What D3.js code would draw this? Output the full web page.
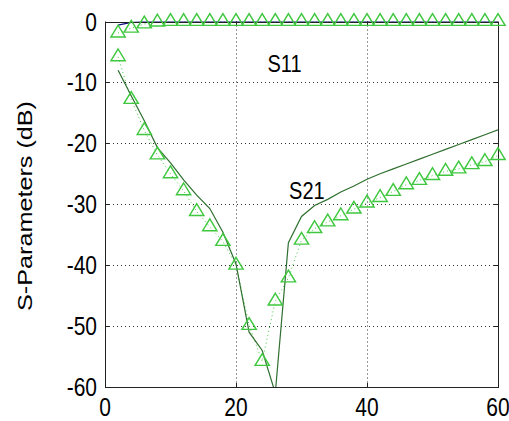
<!DOCTYPE html>
<html>
<head>
<meta charset="utf-8">
<script src="https://cdn.jsdelivr.net/npm/d3@7"></script>
<style>
  html, body { margin: 0; padding: 0; background: #fff; }
  text { font-family: "Liberation Sans", Arial, sans-serif; fill: #000; }
</style>
</head>
<body>
<svg id="chart" width="509" height="421"></svg>
<script>
'use strict';

// frequency points of the measurement / simulation
var freq = [2, 4, 6, 8, 10, 12, 14, 16, 18, 20, 22, 24, 26, 28, 30,
            32, 34, 36, 38, 40, 42, 44, 46, 48, 50, 52, 54, 56, 58, 60];

// measured (triangles, dotted)
var s11Meas = [-1.9, -1.1, -0.4, -0.1, 0, 0, 0, 0, 0, 0, 0, 0, 0, 0, 0,
               0, 0, 0, 0, 0, 0, 0, 0, 0, 0, 0, 0, 0, 0, 0];
var s21Meas = [-5.8, -12.8, -17.9, -21.9, -25.0, -27.8, -31.2, -33.7, -36.1, -40.0,
               -49.9, -55.8, -45.9, -42.1, -35.9, -34.0, -32.9, -31.9, -30.8, -29.8,
               -28.9, -27.9, -26.8, -26.1, -25.3, -24.6, -24.2, -23.5, -23.0, -22.0];

// simulated (solid)
var s11Sim = [-0.6, -0.15, 0, 0, 0, 0, 0, 0, 0, 0, 0, 0, 0, 0, 0,
              0, 0, 0, 0, 0, 0, 0, 0, 0, 0, 0, 0, 0, 0, 0];
var s21Sim = [-8.0, -12.2, -16.3, -20.7, -23.2, -26.0, -28.5, -30.7, -34.6, -39.8,
              -51.0, -54.0, -61.0, -36.3, -32.0, -30.2, -29.2, -28.0, -27.0, -25.9,
              -25.0, -24.2, -23.4, -22.6, -21.8, -21.0, -20.2, -19.4, -18.6, -17.8];

var xTicks = [0, 20, 40, 60];
var yTicks = [0, -10, -20, -30, -40, -50, -60];

var labels = [
    { text: 'S11', f: 24.8, db: -8.3 },
    { text: 'S21', f: 28.1, db: -29.2 }
];

var margin = { left: 105, right: 11, top: 21.5, bottom: 34 },
    W = 509, H = 421,
    stretch = 1.2;

var svg = d3.select('#chart');

var x = d3.scaleLinear().domain([0, 60]).range([margin.left, W - margin.right]);
var y = d3.scaleLinear().domain([-60, 0]).range([H - margin.bottom, margin.top]);

svg.append('defs').append('clipPath').attr('id', 'plot')
    .append('rect')
    .attr('x', x(0)).attr('y', y(0))
    .attr('width', x(60) - x(0)).attr('height', y(-60) - y(0));

// grid
var grid = svg.append('g').attr('class', 'grid')
    .style('stroke', '#333').style('stroke-width', 1).style('stroke-dasharray', '1,3');

grid.selectAll('line.v').data(xTicks.slice(1, -1)).enter().append('line')
    .attr('x1', function (d) { return Math.round(x(d)) + 0.5; })
    .attr('x2', function (d) { return Math.round(x(d)) + 0.5; })
    .attr('y1', y(0)).attr('y2', y(-60));

grid.selectAll('line.h').data(yTicks.slice(1, -1)).enter().append('line')
    .attr('y1', function (d) { return Math.round(y(d)) + 0.5; })
    .attr('y2', function (d) { return Math.round(y(d)) + 0.5; })
    .attr('x1', x(0)).attr('x2', x(60));

var plot = svg.append('g').attr('clip-path', 'url(#plot)');

function pairs(vals) {
    return freq.map(function (f, i) { return [f, vals[i]]; });
}

var line = d3.line()
    .x(function (d) { return x(d[0]); })
    .y(function (d) { return y(d[1]); });

var lightGreen = '#3fc83f',
    darkGreen = '#2f6f2f';

// measured: dotted connection
[s11Meas, s21Meas].forEach(function (vals) {
    plot.append('path')
        .attr('d', line(pairs(vals)))
        .style('fill', 'none')
        .style('stroke', lightGreen)
        .style('stroke-width', 1)
        .style('stroke-dasharray', '1,3');
});

// simulated
plot.append('path')
    .attr('d', line(pairs(s21Sim)))
    .style('fill', 'none')
    .style('stroke', darkGreen)
    .style('stroke-width', 1.2);

plot.append('path')
    .attr('d', line(pairs(s11Sim)))
    .style('fill', 'none')
    .style('stroke', '#101080')
    .style('stroke-width', 1.2);

// box + ticks
var axis = svg.append('g').style('stroke', '#222').style('stroke-width', 1);

axis.append('rect')
    .attr('x', Math.round(x(0)) + 0.5).attr('y', Math.round(y(0)) + 0.5)
    .attr('width', Math.round(x(60)) - Math.round(x(0)))
    .attr('height', Math.round(y(-60)) - Math.round(y(0)))
    .style('fill', 'none');

var tl = 4;
yTicks.forEach(function (d) {
    var yy = Math.round(y(d)) + 0.5;
    axis.append('line').attr('x1', x(0)).attr('x2', x(0) + tl).attr('y1', yy).attr('y2', yy);
    axis.append('line').attr('x1', x(60)).attr('x2', x(60) - tl).attr('y1', yy).attr('y2', yy);
});
xTicks.forEach(function (d) {
    var xx = Math.round(x(d)) + 0.5;
    axis.append('line').attr('y1', y(-60)).attr('y2', y(-60) - tl).attr('x1', xx).attr('x2', xx);
    axis.append('line').attr('y1', y(0)).attr('y2', y(0) + tl).attr('x1', xx).attr('x2', xx);
});

// measured markers
var tri = d3.symbol().type(d3.symbolTriangle).size(80);
[s11Meas, s21Meas].forEach(function (vals) {
    svg.append('g').selectAll('path').data(pairs(vals)).enter().append('path')
        .attr('d', tri)
        .attr('transform', function (d) {
            return 'translate(' + x(d[0]) + ',' + y(d[1]) + ') scale(1.05,1)';
        })
        .style('fill', 'none')
        .style('stroke', lightGreen)
        .style('stroke-width', 1.4);
});

// text, stretched vertically like the original figure
function stretchedText(tx, ty, str, anchor, size) {
    return svg.append('text')
        .attr('transform', 'translate(' + tx + ',' + ty + ') scale(1,' + stretch + ')')
        .attr('text-anchor', anchor)
        .style('font-size', size + 'px')
        .text(str);
}

yTicks.forEach(function (d) {
    stretchedText(x(0) - 8, y(d) + 7.5 * stretch, d, 'end', 21);
});
xTicks.forEach(function (d) {
    stretchedText(x(d), y(-60) + 29, d, 'middle', 21);
});

labels.forEach(function (l) {
    stretchedText(x(l.f), y(l.db), l.text, 'start', 20);
});

svg.append('text')
    .attr('transform', 'translate(31.5,206) scale(1,' + stretch + ') rotate(-90)')
    .attr('text-anchor', 'middle')
    .style('font-size', '21px')
    .text('S-Parameters (dB)');
</script>
</body>
</html>
